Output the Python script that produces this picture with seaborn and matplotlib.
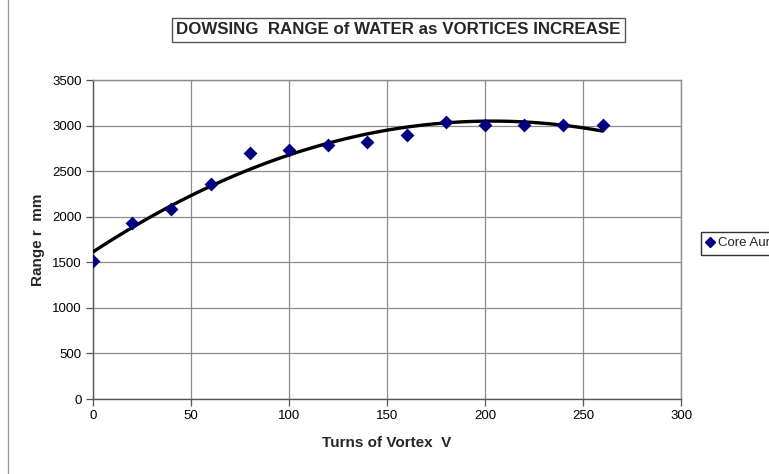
import matplotlib
matplotlib.use("Agg")
import matplotlib.pyplot as plt
import seaborn as sns
import pandas as pd
from matplotlib.lines import Line2D

# values
turns = [0, 20, 40, 60, 80, 100, 120, 140, 160, 180, 200, 220, 240, 260]
range_mm = [1515, 1930, 2085, 2360, 2700, 2730, 2790, 2825, 2900, 3035, 3010, 3010, 3010, 3010]
SERIES = "Core Aura"

MARKER = "#000080"
GRID = "#8C8C8C"

df = pd.DataFrame({"turns": turns, "range": range_mm})

sns.set_style("white")
plt.rcParams["font.family"] = ["Liberation Sans", "DejaVu Sans"]

fig = plt.figure(figsize=(7.69, 4.74), dpi=100)
ax = fig.add_axes([0.1209, 0.1582, 0.7647, 0.673])

sns.regplot(data=df, x="turns", y="range", order=2, ci=None, ax=ax,
            marker="D",
            scatter_kws={"color": MARKER, "s": 50, "alpha": 1.0,
                         "linewidths": 0, "zorder": 4},
            line_kws={"color": "black", "linewidth": 2.4, "zorder": 3})

ax.set_xlim(0, 300)
ax.set_ylim(0, 3500)
ax.set_xticks(range(0, 301, 50))
ax.set_yticks(range(0, 3501, 500))
ax.grid(True, color=GRID, linewidth=0.9)
ax.set_axisbelow(True)
for sp in ax.spines.values():
    sp.set_color(GRID)
    sp.set_linewidth(1.0)
ax.spines["left"].set_color("#555555")
ax.spines["bottom"].set_color("#555555")
ax.tick_params(axis="both", direction="out", length=5, width=0.9, color="#555555",
               labelsize=9.5, labelcolor="black", pad=3,
               bottom=True, left=True)

ax.set_xlabel("Turns of Vortex  V", fontsize=11, fontweight="bold", labelpad=10)
ax.set_ylabel("Range r  mm", fontsize=11, fontweight="bold")
ax.yaxis.set_label_coords(-0.082, 0.5)

fig.text(0.518, 0.937, "DOWSING  RANGE of WATER as VORTICES INCREASE",
         ha="center", va="center", fontsize=12.2, fontweight="bold",
         bbox=dict(boxstyle="square,pad=0.25", facecolor="white",
                   edgecolor="#555555", linewidth=1.0))

handle = Line2D([0], [0], marker="D", color="none", markerfacecolor=MARKER,
                markeredgecolor=MARKER, markersize=5)
leg = fig.legend([handle], [SERIES], loc="upper left",
                 bbox_to_anchor=(0.911, 0.511), borderaxespad=0, fontsize=9.5,
                 frameon=True, fancybox=False, shadow=False,
                 handlelength=0.6, handletextpad=0.3, borderpad=0.4)
leg.get_frame().set_edgecolor("black")
leg.get_frame().set_linewidth(1.0)

# left edge of the chart area border
fig.add_artist(Line2D([0.0105, 0.0105], [0.0, 1.0], color="#9A9A9A", linewidth=1.0))

fig.savefig("out.png", dpi=100, facecolor="white")
